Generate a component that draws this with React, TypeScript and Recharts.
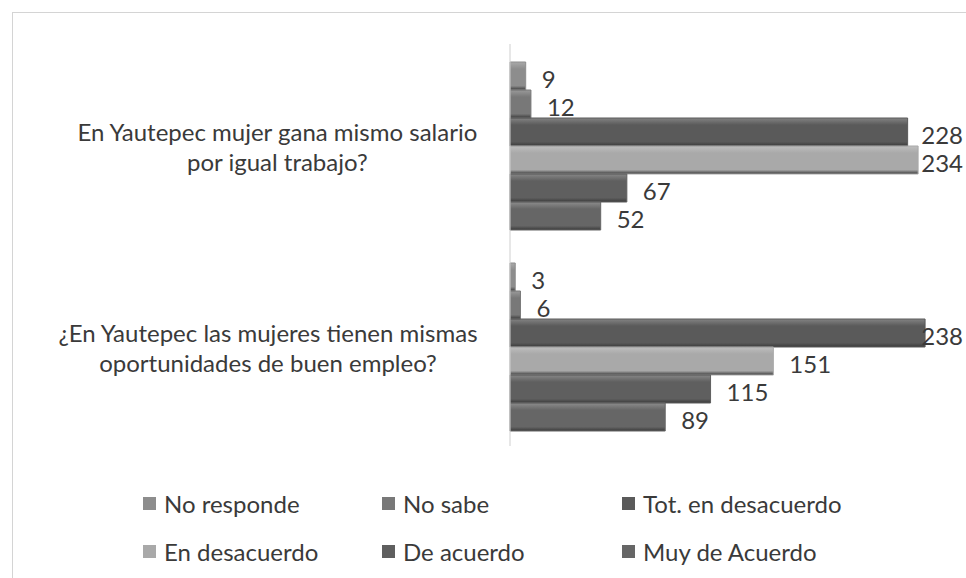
import React from "react";
import { BarChart, Bar, XAxis, YAxis, LabelList } from "recharts";

// survey questions, each split in the two lines shown on the axis
const questionLines = [
  ["En Yautepec mujer gana mismo salario", "por igual trabajo?"],
  ["¿En Yautepec las mujeres tienen mismas", "oportunidades de buen empleo?"],
];
const questions = questionLines.map((l) => l.join(" "));

const seriesNames = [
  "No responde",
  "No sabe",
  "Tot. en desacuerdo",
  "En desacuerdo",
  "De acuerdo",
  "Muy de Acuerdo",
];
const noResponde = [9, 3];
const noSabe = [12, 6];
const totDesacuerdo = [228, 238];
const enDesacuerdo = [234, 151];
const deAcuerdo = [67, 115];
const muyDeAcuerdo = [52, 89];

const seriesValues = [noResponde, noSabe, totDesacuerdo, enDesacuerdo, deAcuerdo, muyDeAcuerdo];
const colors = ["#8d8d8d", "#787878", "#5a5a5a", "#a9a9a9", "#5f5f5f", "#666666"];

const data = questions.map((q, i) => {
  const row: Record<string, string | number> = { name: q };
  seriesNames.forEach((s, j) => {
    row[s] = seriesValues[j][i];
  });
  return row;
});

const W = 966;
const H = 578;
const FONT = "Lato, 'Noto Sans', sans-serif";
const TEXT = "#3a3a3a";
const SIZE = 24;

let ctx: CanvasRenderingContext2D | null = null;
const measure = (s: string, size: number) => {
  if (!ctx) ctx = document.createElement("canvas").getContext("2d");
  if (!ctx) return s.length * size * 0.5;
  ctx.font = `${size}px Lato`;
  return ctx.measureText(s).width;
};

const QuestionTick = (props: any) => {
  const { x, y, payload } = props;
  const idx = questions.indexOf(payload.value);
  const lines = idx >= 0 ? questionLines[idx] : [payload.value];
  const maxW = Math.max(...lines.map((l) => measure(l, SIZE)));
  const cx = x - 24 - maxW / 2;
  return (
    <text x={cx} y={y} textAnchor="middle" fill={TEXT} fontSize={SIZE} fontFamily={FONT}>
      {lines.map((l, i) => (
        <tspan key={i} x={cx} y={y + 2 + (i - (lines.length - 1) / 2) * 30} dominantBaseline="central">
          {l}
        </tspan>
      ))}
    </text>
  );
};

// value label right of the bar, pulled back in when it would run off the edge
const ValueLabel = (props: any) => {
  const { x, y, width, height, value } = props;
  const txt = String(value);
  const tw = measure(txt, SIZE);
  const lx = Math.min(x + width + 16, W - 3 - tw);
  return (
    <text
      x={lx}
      y={y + height / 2 + 2}
      fill={TEXT}
      fontSize={SIZE}
      fontFamily={FONT}
      dominantBaseline="central"
    >
      {txt}
    </text>
  );
};

const LegendGrid = () => (
  <div
    style={{
      position: "absolute",
      left: 143,
      top: 488,
      display: "grid",
      gridTemplateColumns: "239px 240px 300px",
      rowGap: 18,
      fontFamily: FONT,
      fontSize: SIZE,
      color: TEXT,
    }}
  >
    {seriesNames.map((s, i) => (
      <div key={s} style={{ display: "flex", alignItems: "center", height: 30 }}>
        <span
          style={{
            width: 13,
            height: 13,
            marginRight: 8,
            background: colors[i],
            display: "inline-block",
          }}
        />
        {s}
      </div>
    ))}
  </div>
);

export default function App() {
  return (
    <div
      style={{
        position: "fixed",
        left: 0,
        top: 0,
        width: W,
        height: H,
        overflow: "hidden",
        background: "#fff",
      }}
    >
      <div
        style={{
          position: "absolute",
          left: 12,
          top: 12,
          width: 1000,
          height: 620,
          border: "1px solid #d4d4d4",
        }}
      />
      <BarChart
        width={W}
        height={H}
        data={data}
        layout="vertical"
        margin={{ top: 44, right: 20, bottom: 132, left: 14 }}
        barCategoryGap={18}
        barGap={0}
        style={{ position: "absolute", left: 0, top: 0 }}
      >
        <defs>
          {colors.map((c, i) => (
            <linearGradient key={i} id={`g${i}`} x1="0" y1="0" x2="0" y2="1">
              <stop offset="0%" stopColor={c} stopOpacity={0.75} />
              <stop offset="25%" stopColor={c} />
              <stop offset="85%" stopColor={c} />
              <stop offset="100%" stopColor="#3a3a3a" />
            </linearGradient>
          ))}
        </defs>
        <XAxis type="number" domain={[0, 250]} hide />
        <YAxis
          type="category"
          dataKey="name"
          width={496}
          axisLine={{ stroke: "#cfcfcf" }}
          tickLine={false}
          tick={<QuestionTick />}
          interval={0}
        />
        {seriesNames.map((s, i) => (
          <Bar key={s} dataKey={s} fill={`url(#g${i})`} stroke={colors[i]} isAnimationActive={false}>
            <LabelList dataKey={s} content={<ValueLabel />} />
          </Bar>
        ))}
      </BarChart>
      <LegendGrid />
    </div>
  );
}
